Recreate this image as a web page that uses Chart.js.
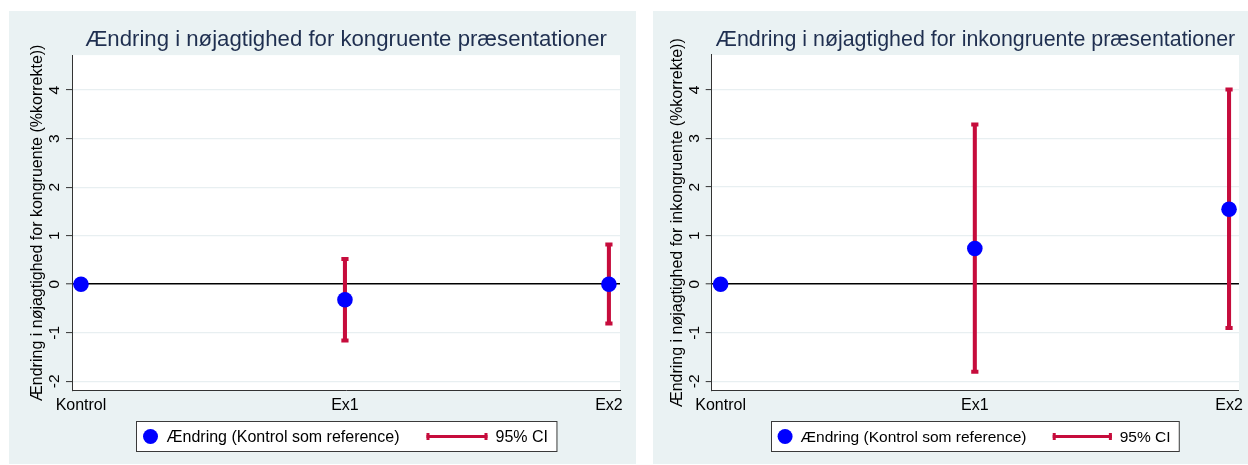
<!DOCTYPE html>
<html>
<head>
<meta charset="utf-8">
<script src="https://cdn.jsdelivr.net/npm/chart.js@4.4.1/dist/chart.umd.min.js"></script>
<style>
  html, body { margin: 0; padding: 0; background: #ffffff; }
  body { width: 1248px; height: 465px; position: relative; overflow: hidden; }
  canvas { position: absolute; }
  #kong { left: 9px; top: 11px; }
  #inkong { left: 653px; top: 11px; }
</style>
</head>
<body>
<canvas id="kong" width="627" height="453"></canvas>
<canvas id="inkong" width="595" height="453"></canvas>
<script>
// Categories and tick labels
const categories = ['Kontrol', 'Ex1', 'Ex2'];
const yTicks = [-2, -1, 0, 1, 2, 3, 4];

// Congruent presentations: estimate and 95% CI (Kontrol is the reference)
const kongEstimate = [0, -0.32, 0.0];
const kongLower = [null, -1.16, -0.81];
const kongUpper = [null, 0.52, 0.82];

// Incongruent presentations
const inkongEstimate = [0, 0.735, 1.545];
const inkongLower = [null, -1.80, -0.90];
const inkongUpper = [null, 3.29, 4.01];

// Texts
const legendLabels = ['Ændring (Kontrol som reference)', '95% CI'];
const kongTitle = 'Ændring i nøjagtighed for kongruente præsentationer';
const kongYTitle = 'Ændring i nøjagtighed for kongruente (%korrekte))';
const inkongTitle = 'Ændring i nøjagtighed for inkongruente præsentationer';
const inkongYTitle = 'Ændring i nøjagtighed for inkongruente (%korrekte))';

const FONT = "'Liberation Sans', Arial, Helvetica, sans-serif";
const PANEL_BG = '#EAF2F3';
const GRID = '#E8EFF1';
const AXIS = '#333333';
const CI_RED = '#C60C3C';
const DOT_BLUE = '#0000FF';
const TITLE_COLOR = '#1F2F50';

// Background, rotated y tick labels and the boxed legend
const panelPlugin = {
  id: 'panel',
  beforeDraw(chart) {
    const { ctx, chartArea: a, width, height } = chart;
    ctx.save();
    ctx.fillStyle = PANEL_BG;
    ctx.fillRect(0, 0, width, height);
    ctx.fillStyle = '#ffffff';
    ctx.fillRect(a.left, a.top, a.right - a.left, a.bottom - a.top);
    ctx.restore();
  },
  afterDraw(chart, args, opts) {
    const { ctx, chartArea: a } = chart;
    const yScale = chart.scales.y;
    const s = opts.scale || 1;

    // y tick labels, turned like the axis title
    ctx.save();
    ctx.fillStyle = '#000000';
    ctx.font = `${opts.tickSize}px ${FONT}`;
    ctx.textAlign = 'center';
    ctx.textBaseline = 'middle';
    yTicks.forEach(v => {
      const py = yScale.getPixelForValue(v);
      ctx.save();
      ctx.translate(a.left - opts.tickOffset, py);
      ctx.rotate(-Math.PI / 2);
      ctx.fillText(String(v), 0, 0);
      ctx.restore();
    });
    ctx.restore();

    // legend
    ctx.save();
    const fs = 16 * s;
    ctx.font = `${fs}px ${FONT}`;
    const w1 = ctx.measureText(legendLabels[0]).width;
    const w2 = ctx.measureText(legendLabels[1]).width;
    const padL = 30 * s, gap1 = 27 * s, sym = 61 * s, gap2 = 8 * s, padR = 9 * s;
    const boxW = padL + w1 + gap1 + sym + gap2 + w2 + padR;
    const boxH = 30;
    const cx = (a.left + a.right) / 2;
    const bx = Math.round(cx - boxW / 2) + 0.5;
    const by = opts.legendTop + 0.5;
    const cy = by + boxH / 2;
    ctx.fillStyle = '#ffffff';
    ctx.fillRect(bx, by, boxW, boxH);
    ctx.strokeStyle = '#3a3a3a';
    ctx.lineWidth = 1;
    ctx.strokeRect(bx, by, boxW, boxH);

    // marker
    ctx.fillStyle = DOT_BLUE;
    ctx.beginPath();
    ctx.arc(bx + 14 * s, cy, 7.5, 0, Math.PI * 2);
    ctx.fill();

    ctx.fillStyle = '#000000';
    ctx.textAlign = 'left';
    ctx.textBaseline = 'middle';
    ctx.fillText(legendLabels[0], bx + padL, cy + 1);

    // CI sample: bar with caps
    const sx = bx + padL + w1 + gap1;
    ctx.strokeStyle = CI_RED;
    ctx.lineWidth = 3;
    ctx.beginPath();
    ctx.moveTo(sx, cy);
    ctx.lineTo(sx + sym, cy);
    ctx.stroke();
    ctx.lineWidth = 3;
    ctx.beginPath();
    ctx.moveTo(sx + 1.5, cy - 3.5); ctx.lineTo(sx + 1.5, cy + 3.5);
    ctx.moveTo(sx + sym - 1.5, cy - 3.5); ctx.lineTo(sx + sym - 1.5, cy + 3.5);
    ctx.stroke();

    ctx.fillStyle = '#000000';
    ctx.fillText(legendLabels[1], sx + sym + gap2, cy + 1);
    ctx.restore();
  }
};

function ciBars(lower, upper) {
  const out = [];
  categories.forEach((c, i) => {
    if (lower[i] !== null && upper[i] !== null) out.push({ x: i, y: [lower[i], upper[i]] });
  });
  return out;
}
function ciCaps(lower, upper) {
  const out = [];
  categories.forEach((c, i) => {
    if (lower[i] !== null) out.push({ x: i, y: lower[i] });
    if (upper[i] !== null) out.push({ x: i, y: upper[i] });
  });
  return out;
}

function makePanel(id, p) {
  return new Chart(document.getElementById(id), {
    data: {
      datasets: [
        {
          type: 'scatter',
          label: legendLabels[0],
          data: p.estimate.map((v, i) => ({ x: i, y: v })),
          pointRadius: 7.8,
          pointHoverRadius: 7.8,
          pointBackgroundColor: DOT_BLUE,
          pointBorderWidth: 0,
          showLine: false
        },
        {
          type: 'scatter',
          label: 'caps',
          data: ciCaps(p.lower, p.upper),
          pointStyle: 'line',
          pointRadius: 3.6,
          pointHoverRadius: 3.6,
          pointBorderColor: CI_RED,
          pointBorderWidth: 4,
          showLine: false
        },
        {
          type: 'bar',
          label: legendLabels[1],
          data: ciBars(p.lower, p.upper),
          backgroundColor: CI_RED,
          borderWidth: 0,
          barThickness: 3.4,
          grouped: false
        }
      ]
    },
    options: {
      responsive: false,
      animation: false,
      devicePixelRatio: 1,
      layout: { padding: { left: 0, right: p.padRight, top: 0, bottom: p.padBottom } },
      plugins: {
        legend: { display: false },
        tooltip: { enabled: false },
        title: {
          display: true,
          text: p.title,
          fullSize: false,
          color: TITLE_COLOR,
          font: { family: FONT, size: p.titleSize, weight: 'normal', lineHeight: 1.2 },
          padding: { top: p.titlePadTop, bottom: p.titlePadBottom }
        },
        panel: { scale: p.scale, tickSize: 15.5, tickOffset: 17, legendTop: 410 }
      },
      scales: {
        x: {
          type: 'linear',
          offset: false,
          min: p.xMin,
          max: p.xMax,
          afterBuildTicks: sc => { sc.ticks = categories.map((c, i) => ({ value: i })); },
          ticks: {
            callback: v => categories[v],
            color: '#000000',
            font: { family: FONT, size: 16 },
            padding: 5,
            autoSkip: false,
            maxRotation: 0,
            minRotation: 0
          },
          grid: { display: false, drawTicks: false, offset: false },
          border: { display: true, color: AXIS, width: 1 }
        },
        y: {
          type: 'linear',
          min: -2.19,
          max: 4.72,
          afterBuildTicks: sc => { sc.ticks = yTicks.map(v => ({ value: v })); },
          ticks: { display: false },
          grid: {
            color: c => (c.tick && c.tick.value === 0 ? '#000000' : GRID),
            lineWidth: c => (c.tick && c.tick.value === 0 ? 1.6 : 1.2),
            tickColor: AXIS,
            tickWidth: 1,
            tickLength: 6,
            drawTicks: true
          },
          border: { display: true, color: AXIS, width: 1 },
          title: {
            display: true,
            text: p.yTitle,
            color: '#000000',
            font: { family: FONT, size: 16, lineHeight: 1.2 },
            padding: { top: p.yTitlePadTop, bottom: p.yTitlePadBottom }
          }
        }
      }
    },
    plugins: [panelPlugin]
  });
}

makePanel('kong', {
  title: kongTitle, yTitle: kongYTitle,
  estimate: kongEstimate, lower: kongLower, upper: kongUpper,
  xMin: -0.034, xMax: 2.042,
  titleSize: 22.2, titlePadTop: 15.9, titlePadBottom: 1.6,
  yTitlePadTop: 18.9, yTitlePadBottom: 18.9,
  padRight: 16, padBottom: 44.2, scale: 1
});

makePanel('inkong', {
  title: inkongTitle, yTitle: inkongYTitle,
  estimate: inkongEstimate, lower: inkongLower, upper: inkongUpper,
  xMin: -0.035, xMax: 2.039,
  titleSize: 21.4, titlePadTop: 16.5, titlePadBottom: 1.8,
  yTitlePadTop: 15.1, yTitlePadBottom: 18.4,
  padRight: 5.3, padBottom: 44.2, scale: 0.97
});
</script>
</body>
</html>
